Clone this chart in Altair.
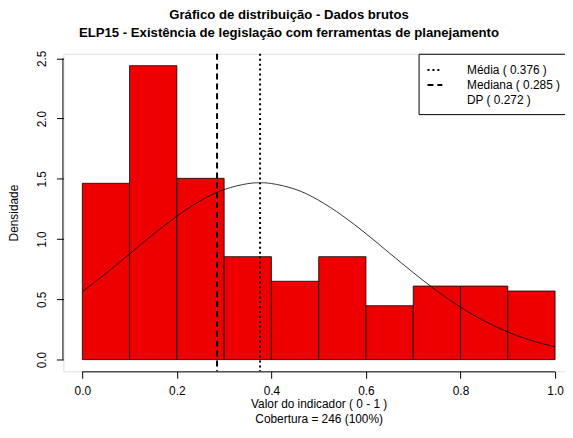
import altair as alt
import pandas as pd

# ---- data ----
bin_start = [0.0, 0.1, 0.2, 0.3, 0.4, 0.5, 0.6, 0.7, 0.8, 0.9]
bin_end = [0.1, 0.2, 0.3, 0.4, 0.5, 0.6, 0.7, 0.8, 0.9, 1.0]
density = [1.463, 2.439, 1.504, 0.854, 0.650, 0.854, 0.447, 0.610, 0.610, 0.569]

curve_x = [0.0, 0.05, 0.1, 0.15, 0.2, 0.25, 0.3, 0.35, 0.376, 0.4, 0.45, 0.5,
           0.55, 0.6, 0.65, 0.7, 0.75, 0.8, 0.85, 0.9, 0.95, 1.0]
curve_y = [0.564, 0.715, 0.877, 1.039, 1.190, 1.318, 1.411, 1.460, 1.467, 1.461,
           1.414, 1.322, 1.195, 1.045, 0.883, 0.722, 0.570, 0.435, 0.321, 0.229,
           0.158, 0.106]

stat_names = ["Média ( 0.376 )", "Mediana ( 0.285 )", "DP ( 0.272 )"]
stat_values = [0.376, 0.285, 0.272]

x_ticks = [0.0, 0.2, 0.4, 0.6, 0.8, 1.0]
y_ticks = [0.0, 0.5, 1.0, 1.5, 2.0, 2.5]

title_lines = ["Gráfico de distribuição - Dados brutos",
               "ELP15 - Existência de legislação com ferramentas de planejamento"]
x_title = ["Valor do indicador ( 0 - 1 )", "Cobertura = 246 (100%)"]
y_title = "Densidade"

# ---- tables ----
bars = pd.DataFrame({"start": bin_start, "end": bin_end, "density": density})
curve = pd.DataFrame({"x": curve_x, "y": curve_y})
stats = pd.DataFrame({"stat": stat_names, "value": stat_values})
xaxis_line = pd.DataFrame({"a": [x_ticks[0]], "b": [x_ticks[-1]]})
yaxis_line = pd.DataFrame({"a": [y_ticks[0]], "b": [y_ticks[-1]]})

FONT = "Liberation Sans"
W, H = 507, 321

xscale = alt.Scale(domain=[-0.04, 1.021], nice=False, zero=False)
yscale = alt.Scale(domain=[-0.0976, 2.5376], nice=False, zero=False)

xaxis = alt.Axis(values=x_ticks, format=".1f", domain=False, grid=False,
                 tickSize=7, tickColor="black", labelColor="black",
                 labelFontSize=12, labelFont=FONT, labelPadding=7,
                 title=x_title, titleFont=FONT, titleFontSize=12,
                 titleFontWeight="normal", titleColor="black",
                 titleX=258, titlePadding=3, titleLineHeight=14.5)
yaxis = alt.Axis(values=y_ticks, format=".1f", domain=False, grid=False,
                 tickSize=7, tickColor="black", labelColor="black",
                 labelFontSize=12, labelFont=FONT, labelAngle=-90,
                 labelAlign="center", labelBaseline="bottom", labelPadding=8,
                 title=y_title, titleFont=FONT, titleFontSize=12,
                 titleFontWeight="normal", titleColor="black", titlePadding=15)

hist = alt.Chart(bars).mark_rect(fill="#EE0000", stroke="black", strokeWidth=0.8).encode(
    x=alt.X("start:Q", scale=xscale, axis=xaxis),
    x2="end:Q",
    y=alt.Y("density:Q", scale=yscale, axis=yaxis),
    y2=alt.datum(0),
)

line = alt.Chart(curve).mark_line(color="black", strokeWidth=0.8, interpolate="natural").encode(
    x=alt.X("x:Q", scale=xscale),
    y=alt.Y("y:Q", scale=yscale),
)

vlines = alt.Chart(stats).mark_rule(strokeWidth=2, color="black").encode(
    x=alt.X("value:Q", scale=xscale),
    strokeDash=alt.StrokeDash(
        "stat:N",
        scale=alt.Scale(domain=stat_names, range=[[2, 3], [6, 4], [0, 100]]),
        legend=alt.Legend(
            title=None, orient="none", legendX=359, legendY=0,
            strokeColor="black", fillColor="white", padding=8,
            symbolType="stroke", symbolSize=225, symbolStrokeWidth=2,
            symbolStrokeColor="black", labelFont=FONT, labelFontSize=12,
            labelColor="black", labelOffset=24, rowPadding=0, cornerRadius=0,
        ),
    ),
)

xline = alt.Chart(xaxis_line).mark_rule(color="black", strokeWidth=1).encode(
    x=alt.X("a:Q", scale=xscale), x2="b:Q", y=alt.value(H + 0.5)
)
yline = alt.Chart(yaxis_line).mark_rule(color="black", strokeWidth=1).encode(
    y=alt.Y("a:Q", scale=yscale), y2="b:Q", x=alt.value(-0.5)
)

chart = alt.layer(hist, line, vlines, xline, yline).properties(
    width=W, height=H,
    title=alt.TitleParams(text=title_lines, font=FONT, fontSize=13.3, fontWeight="bold",
                          color="black", anchor="middle", dx=-25.5, offset=11,
                          lineHeight=18),
    autosize=alt.AutoSizeParams(type="none"),
    padding={"left": 56, "top": 44, "right": 0, "bottom": 57},
).configure_view(stroke=None).configure(background="white")

chart.save("out.html", embed_options={"renderer": "svg", "actions": False})
